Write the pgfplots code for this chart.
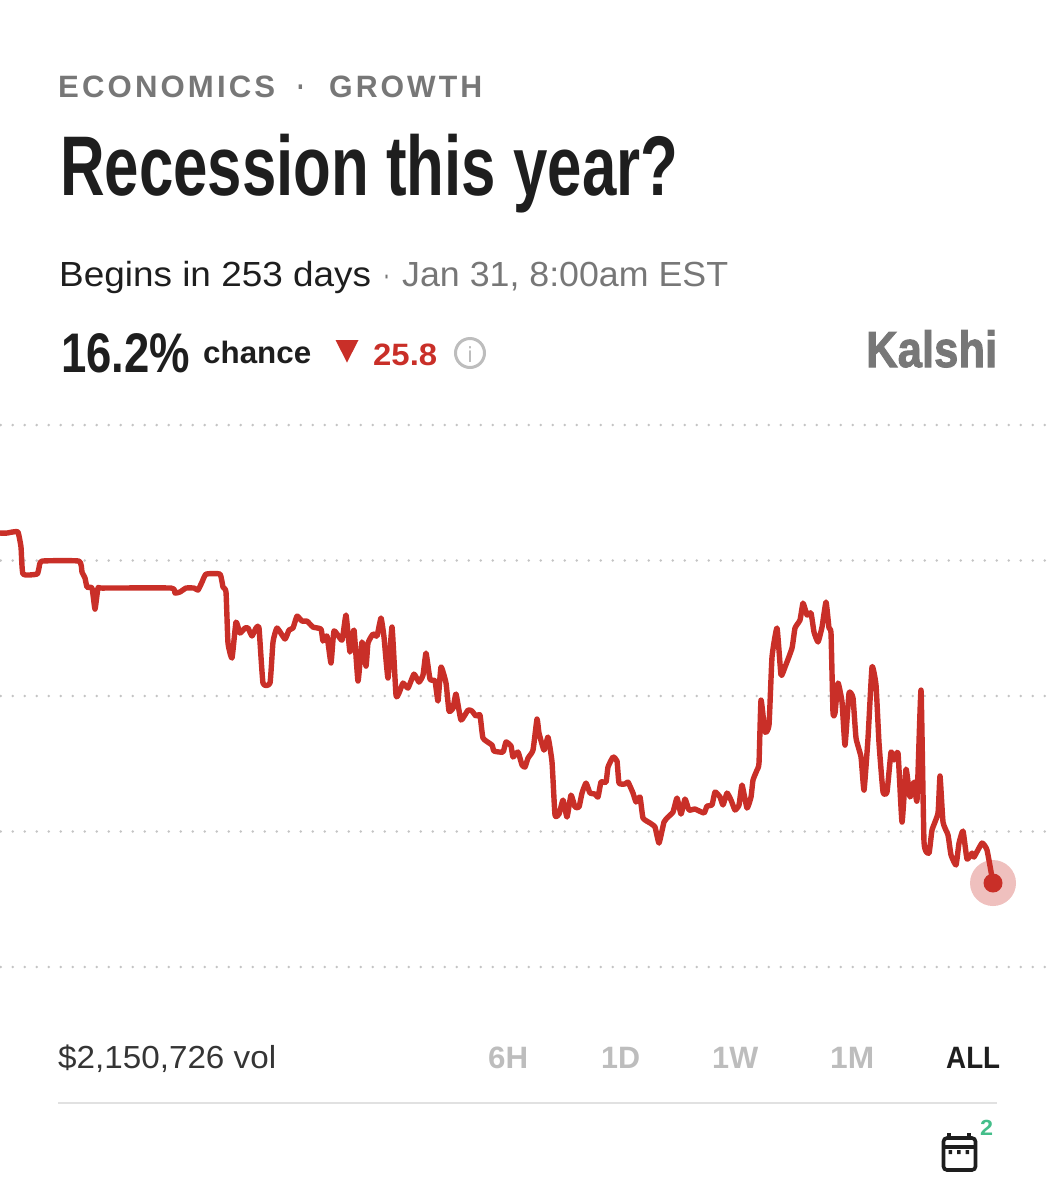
\documentclass[border=0pt]{standalone}
\usepackage{graphicx}
\usepackage{fontspec}
\setmainfont{Liberation Sans}
\newfontfamily\kfont[BoldFeatures={FakeBold=2}]{Liberation Sans}
\usepackage{pgfplots}
\pgfplotsset{compat=1.18}
\usepackage{pgfplotstable}
\definecolor{kred}{HTML}{C92F28}
\definecolor{kgrey}{HTML}{777777}
\definecolor{kdark}{HTML}{1E1E1E}
\definecolor{klight}{HTML}{BDBDBD}
\definecolor{kgrid}{HTML}{C4C4C4}
\definecolor{kgreen}{HTML}{44BE8A}
\newcommand{\T}[7]{\node[anchor=base west,inner sep=0pt,text=#5] at (#1,#2) {\resizebox{#3bp}{\height}{\fontsize{#4}{#4}\selectfont #6#7}};}
\pgfplotstableread{
x y
0 42.03
7 42.03
12 42.10
18 42.10
21 41.00
23 39.00
37 39.00
39 39.45
42 39.96
79 39.96
82 39.15
85 38.71
87 38.04
92 37.97
95 36.42
98 37.97
102 37.97
171 37.97
175 37.60
180 37.68
186 37.97
194 37.97
198 37.82
202 38.41
206 39.00
220 39.00
223 38.04
226 37.68
228 33.91
232 32.80
236 35.46
240 34.65
245 35.02
248 35.02
252 34.43
256 35.02
259 35.02
263 30.96
270 30.96
273 33.99
277 35.02
285 34.21
289 34.87
293 35.02
297 35.90
302 35.53
307 35.53
313 35.09
321 34.94
323 34.06
327 34.43
331 32.44
334 34.80
342 34.13
346 35.98
350 33.25
354 34.87
358 31.11
362 33.99
366 32.21
368 33.91
373 34.58
377 34.43
381 35.76
384 34.35
388 31.33
392 35.09
396 30.07
399 30.22
403 30.96
408 30.59
414 31.62
419 31.03
423 31.55
426 33.17
430 31.25
435 31.11
438 29.63
441 32.14
446 30.96
449 28.89
453 29.11
456 30.15
461 28.23
468 28.97
472 28.89
476 28.52
480 28.60
483 26.90
492 26.38
494 25.94
503 25.87
506 26.61
511 26.31
513 25.50
518 25.87
522 24.91
525 24.76
528 25.42
533 26.01
537 28.30
539 27.27
544 26.01
548 26.97
552 25.13
555 21.22
559 21.29
563 22.32
567 21.07
571 22.69
575 21.81
579 21.81
582 22.84
586 23.58
590 22.84
595 22.77
598 22.55
601 23.65
606 23.65
608 24.76
613 25.50
617 25.20
619 23.58
625 23.51
628 23.65
633 22.84
636 22.18
640 22.55
643 21.00
650 20.63
655 20.33
659 19.15
664 20.70
668 21.07
673 21.44
677 22.47
681 21.29
685 22.40
689 21.59
695 21.66
704 21.37
707 21.88
712 21.96
715 22.92
720 22.55
723 21.96
727 22.84
731 22.32
735 21.59
739 21.96
742 23.43
747 21.73
751 22.55
753 23.80
757 24.54
759 25.06
761 29.70
765 27.34
769 27.86
772 32.88
777 35.02
781 31.55
785 32.14
792 33.54
795 35.02
800 35.61
803 36.86
807 35.98
811 36.13
814 34.72
818 33.99
822 35.09
826 36.94
829 35.02
831 34.65
833 28.75
835 28.75
838 30.96
842 29.56
845 26.38
849 30.22
853 29.85
856 26.90
861 25.50
864 23.06
868 26.90
872 32.14
876 30.81
879 26.53
883 22.92
887 22.92
891 25.87
894 25.28
898 25.79
902 20.70
906 24.61
910 22.55
914 23.65
917 22.32
921 30.44
924 19.22
929 18.41
932 20.11
938 21.37
940 24.10
943 20.70
948 19.74
951 18.27
956 17.53
959 19.15
963 20.04
967 17.97
972 18.41
974 18.12
982 19.15
987 18.63
993 16.20
}\chance
\begin{document}
\begin{tikzpicture}[x=1bp,y=-1bp]
\useasboundingbox (0,0) rectangle (1055,1200);
\begin{axis}[
  at={(0,0)},anchor=north west,
  scale only axis,width=1055bp,height=1200bp,
  xmin=0,xmax=1055,ymin=-7.196,ymax=81.37,
  axis line style={draw=none},
  xtick=\empty,ytick={10,20,30,40,50},yticklabels={},
  major tick length=0pt,
  ymajorgrids,
  grid style={draw=kgrid,line width=2.8bp,line cap=round,dash pattern=on 0pt off 12bp,dash phase=11.3bp},
]
\addplot[only marks,mark=*,mark size=23bp,mark options={draw opacity=0,fill=kred,fill opacity=0.3}] coordinates {(993,16.2)};
\addplot[kred,line width=5.4bp,line join=round,line cap=round,smooth,tension=0.25] table[x=x,y=y] {\chance};
\addplot[only marks,mark=*,mark size=9.5bp,mark options={draw opacity=0,fill=kred}] coordinates {(993,16.2)};
\end{axis}
% header
\T{58}{97}{217}{31}{kgrey}{\bfseries\addfontfeature{LetterSpace=10}}{ECONOMICS}
\T{297}{97}{8}{31}{kgrey}{\bfseries}{·}
\T{329}{97}{153}{31}{kgrey}{\bfseries\addfontfeature{LetterSpace=10}}{GROWTH}
\T{60}{195}{618}{85}{kdark}{\bfseries}{Recession this year?}
\T{59}{286}{312}{35}{kdark}{}{Begins in 253 days}
\T{383}{286}{7}{35}{kgrey}{}{·}
\T{402}{286}{326}{35}{kgrey}{}{Jan 31, 8:00am EST}
\T{61}{372}{129}{56}{kdark}{\bfseries}{16.2\%}
\T{203}{363}{108}{31}{kdark}{\bfseries}{chance}
\fill[kred] (335.5,340) -- (358.5,340) -- (347,362.5) -- cycle;
\T{373}{365}{64}{31}{kred}{\bfseries}{25.8}
\draw[klight,line width=3bp] (470,353) circle (14.5);
\T{468}{362}{4}{22}{klight}{\bfseries}{i}
\T{866}{367}{131}{51}{kgrey}{\kfont\bfseries}{Kalshi}
% footer
\T{58}{1068}{218}{32}{kdark!90}{}{\$2,150,726 vol}
\T{488}{1068}{40}{31}{klight}{\bfseries}{6H}
\T{601}{1068}{39}{31}{klight}{\bfseries}{1D}
\T{712}{1068}{46}{31}{klight}{\bfseries}{1W}
\T{830}{1068}{44}{31}{klight}{\bfseries}{1M}
\T{946}{1068}{54}{31}{kdark}{\bfseries}{ALL}
\draw[kgrid!50,line width=2bp] (58,1103) -- (997,1103);
% calendar icon
\draw[kdark,line width=3.6bp,rounded corners=3.5] (943.5,1138) rectangle (975.5,1170);
\draw[kdark,line width=3.2bp] (943.5,1147) -- (975.5,1147);
\draw[kdark,line width=3.2bp] (949,1133) -- (949,1138) (969,1133) -- (969,1138);
\fill[kdark] (948.5,1150) rectangle (952,1154) (957,1150) rectangle (960.5,1154) (965.5,1150) rectangle (969,1154);
\T{980}{1135}{13}{22}{kgreen}{\bfseries}{2}
\end{tikzpicture}
\end{document}
